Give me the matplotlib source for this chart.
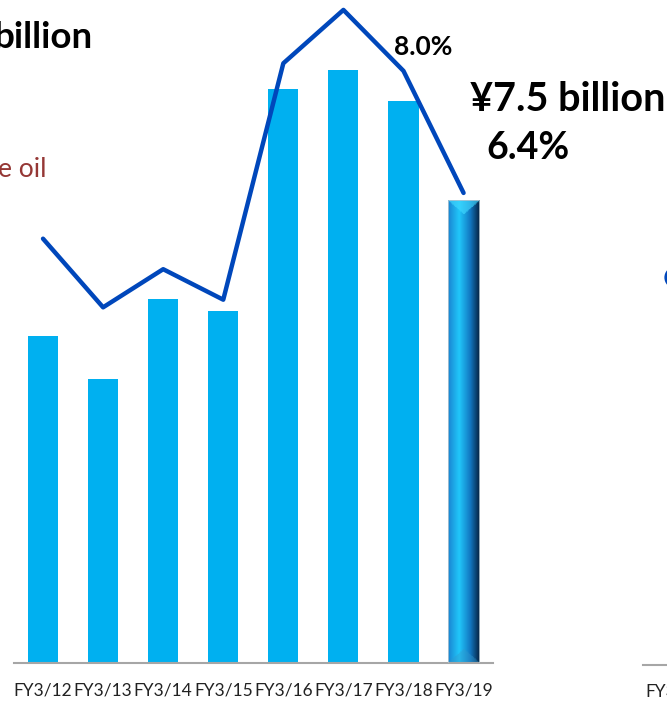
import matplotlib.pyplot as plt
import numpy as np
from matplotlib.patches import Rectangle

plt.rcParams['font.family'] = ['Lato', 'DejaVu Sans']

# Operating profit (¥ billion) and operating margin (%) by fiscal year
years = ['FY3/12', 'FY3/13', 'FY3/14', 'FY3/15', 'FY3/16', 'FY3/17', 'FY3/18', 'FY3/19']
profit = [5.3, 4.6, 5.9, 5.7, 9.3, 9.6, 9.1, 7.5]
margin = [5.8, 4.9, 5.4, 5.0, 8.1, 8.8, 8.0, 6.4]

# first point of the neighbouring chart on the right
next_years = ['FY3/12']
next_margin = [5.3]

bar_color = '#00B0F0'
line_color = '#0047BB'

W, H = 667, 702
fig = plt.figure(figsize=(W / 100, H / 100), dpi=100)

# main chart: baseline at y=663 px, axis from x=14 to x=493 px
ax = fig.add_axes([14 / W, 1 - 663 / H, (493 - 14) / W, 663 / H])
x = np.arange(len(years))
bars = ax.bar(x[:-1], profit[:-1], width=0.5, color=bar_color, zorder=2)

# last year drawn as a shaded, bevelled column
x0, x1 = x[-1] - 0.265, x[-1] + 0.265
top = profit[-1]
nx, ny = 60, 400
u = np.linspace(0, 1, nx)
v = np.linspace(0, top, ny)
U, V = np.meshgrid(u, v)
stops = [0.0, 0.35, 0.7, 1.0]
cols = np.array([[0.10, 0.52, 0.82], [0.13, 0.78, 0.98], [0.07, 0.47, 0.76], [0.02, 0.13, 0.25]])
img = np.zeros((ny, nx, 3))
for c in range(3):
    img[..., c] = np.interp(U, stops, cols[:, c])
tri = 0.22
depth = tri * (1 - np.abs(2 * U - 1))
in_top = (top - V) < depth
in_bot = V < depth
img[in_top] = img[in_top] * 0.35 + np.array([0.25, 0.85, 1.0]) * 0.65
img[in_bot] = img[in_bot] * 0.6 + np.array([0.20, 0.60, 0.80]) * 0.4
im = ax.imshow(img, extent=(x0, x1, 0, top), origin='lower', aspect='auto', zorder=2)
rect = Rectangle((x0, 0), x1 - x0, top, facecolor='none', edgecolor='#B0C4D0', lw=0.6, zorder=3)
ax.add_patch(rect)
im.set_clip_path(rect)

ax.set_xlim(-0.483, 7.49)
ax.set_ylim(0, 10.74)
ax.set_xticks(x)
ax.set_xticklabels(years, fontsize=12.5, color='#222222')
ax.tick_params(axis='x', length=0, pad=14)
ax.set_yticks([])
for side in ['top', 'right', 'left']:
    ax.spines[side].set_visible(False)
ax.spines['bottom'].set_color('#A6A6A6')
ax.spines['bottom'].set_linewidth(1.5)
ax.patch.set_alpha(0)

# operating margin on its own scale (zero sits a little below the baseline)
ax2 = ax.twinx()
ax2.plot(x, margin, color=line_color, lw=3.2, solid_capstyle='round', clip_on=False, zorder=4)
ax2.set_ylim(0.236, 8.93)
ax2.set_yticks([])
ax2.axis('off')

# neighbouring chart, mostly outside the canvas
ax3 = fig.add_axes([643 / W, 1 - 665 / H, 0.6, 665 / H])
ax3.scatter(range(len(next_margin)), next_margin, s=15 ** 2, color=line_color, clip_on=False, zorder=3)
ax3.set_xlim(-26 / 60, 5)
ax3.set_ylim(0.21, 8.93)
ax3.set_xticks(range(len(next_years)))
ax3.set_xticklabels(next_years, fontsize=12.5, color='#222222')
ax3.tick_params(axis='x', length=0, pad=13)
ax3.set_yticks([])
for side in ['top', 'right', 'left']:
    ax3.spines[side].set_visible(False)
ax3.spines['bottom'].set_color('#A6A6A6')
ax3.spines['bottom'].set_linewidth(1.5)
ax3.patch.set_alpha(0)

# annotations
fig.text(93 / W, 1 - 48 / H, 'billion', fontsize=26.5, fontweight='bold', ha='right', va='baseline')
fig.text(47 / W, 1 - 177 / H, 'e oil', fontsize=19, color='#953735', ha='right', va='baseline')
fig.text(394 / W, 1 - 55 / H, '8.0%', fontsize=19, fontweight='bold', ha='left', va='baseline')
fig.text(470 / W, 1 - 111 / H, '¥7.5 billion', fontsize=28.5, fontweight='bold', ha='left', va='baseline')
fig.text(486 / W, 1 - 159 / H, '6.4%', fontsize=27, fontweight='bold', ha='left', va='baseline')

fig.savefig('out.png', dpi=100)
